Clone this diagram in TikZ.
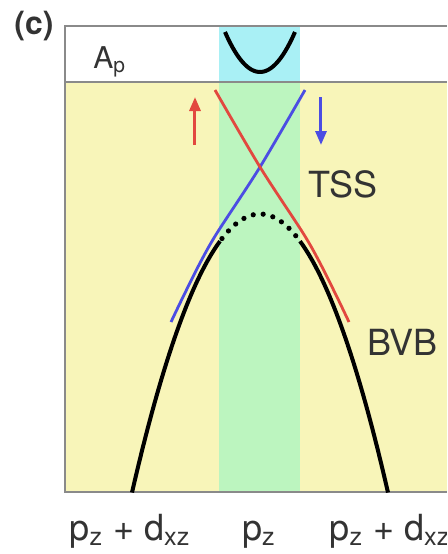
\documentclass[tikz,border=0pt]{standalone}
\usepackage{fontspec}
\setmainfont{TeX Gyre Heros}
\usetikzlibrary{arrows.meta}
\definecolor{bandyel}{HTML}{F8F5B9}
\definecolor{stripgrn}{HTML}{BCF5BF}
\definecolor{stripcyan}{HTML}{A9F0F5}
\definecolor{spinred}{HTML}{E2483F}
\definecolor{spinblue}{HTML}{4B4DE3}
\definecolor{framegray}{HTML}{8A8A8A}
\definecolor{labelg}{HTML}{333333}

\begin{document}
\begin{tikzpicture}[
    x=0.5pt, y=-0.5pt,
    lbl/.style={font=\fontsize{18}{20}\selectfont, text=labelg, inner sep=0pt},
    tag/.style={font=\fontsize{16}{18}\selectfont\bfseries, text=labelg, inner sep=0pt},
    frame/.style={draw=framegray, line width=1pt},
    band/.style={black, line width=2pt},
    tss/.style={line width=1.4pt},
    spin/.style={-{Triangle[length=7pt, width=5.5pt]}, line width=1.5pt}
]
  \useasboundingbox (0,0) rectangle (447,554);
  \clip (0,0) rectangle (447,554);

  % background regions
  \fill[bandyel] (65,82) rectangle (460,492);
  \fill[stripgrn] (219,82) rectangle (300,492);
  \fill[stripcyan] (219,26) rectangle (300,82);
  \draw[frame] (460,26) -| (65,492) -- (460,492);
  \draw[frame] (65,82) -- (460,82);

  % A_p band
  \draw[band] plot[domain=225:295, samples=30] (\x, {72-40*((\x-260)/35)^2});

  % bulk valence band
  \draw[band] plot[domain=132:220, samples=40] (\x, {214+1.7*((\x-260)/10)^2});
  \draw[band] plot[domain=300:388, samples=40] (\x, {214+1.7*((\x-260)/10)^2});
  \draw[black, line width=2.6pt, line cap=round, dash pattern=on 0pt off 5pt]
    plot[domain=222:298, samples=40] (\x, {214+1.7*((\x-260)/10)^2});

  % surface states
  \draw[tss, spinblue] plot[smooth] coordinates {(305,90) (260,167) (217,233) (200,263) (183,297) (171,322)};
  \draw[tss, spinred] plot[smooth] coordinates {(215,90) (260,167) (303,233) (320,263) (337,297) (349,322)};

  % spin arrows
  \coordinate (upA) at (195,145);
  \coordinate (upB) at (195,97);
  \coordinate (dnA) at (321,97);
  \coordinate (dnB) at (321,145);
  \draw[spin, spinred] (upA) -- (upB);
  \draw[spin, spinblue] (dnA) -- (dnB);

  % labels
  \node[tag] (panel) at (34,26) {(c)};
  \node[lbl, font=\fontsize{15}{17}\selectfont, anchor=base west] (Ap) at (93,68) {A\textsubscript{p}};
  \node[lbl, anchor=base west] (TSS) at (308,197) {TSS};
  \node[lbl, anchor=base west] (BVB) at (367,355) {BVB};
  \node[lbl, anchor=base] (kL) at (130,540) {p\textsubscript{z} + d\textsubscript{xz}};
  \node[lbl, anchor=base] (kM) at (259,540) {p\textsubscript{z}};
  \node[lbl, anchor=base] (kR) at (390,540) {p\textsubscript{z} + d\textsubscript{xz}};
\end{tikzpicture}
\end{document}
